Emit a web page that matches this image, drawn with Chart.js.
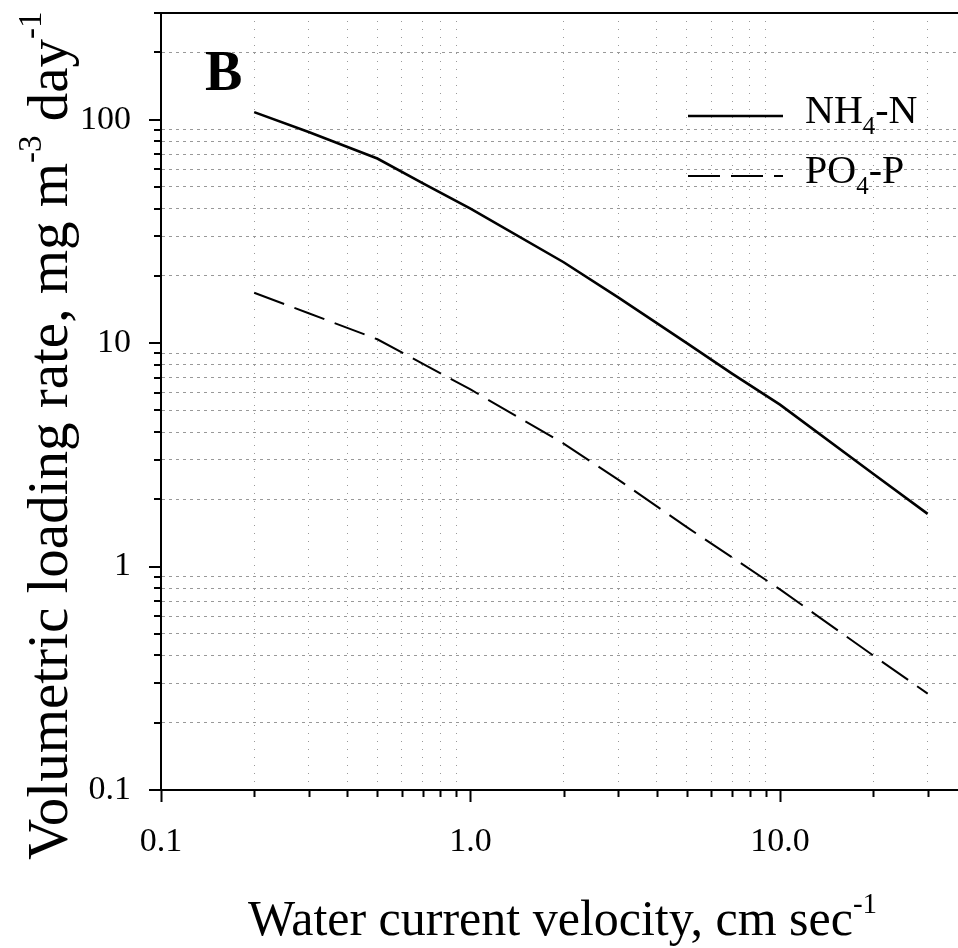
<!DOCTYPE html>
<html><head><meta charset="utf-8">
<script src="https://cdn.jsdelivr.net/npm/chart.js@4/dist/chart.umd.min.js"></script>
<style>html,body{margin:0;padding:0;background:#fff;overflow:hidden}canvas{display:block}</style>
</head><body>
<canvas id="c" width="958" height="948"></canvas>
<script>
// ---- data ----
const velocity = [0.2, 0.3, 0.5, 0.7, 1, 2, 3, 5, 7, 10, 20, 30];
const nh4N = [108, 88, 67, 52, 40, 23, 16, 10, 7.3, 5.3, 2.6, 1.72];
const po4P = [16.8, 13.6, 10.4, 8.1, 6.2, 3.55, 2.45, 1.5, 1.1, 0.79, 0.40, 0.27];

const xTickValues = [0.1, 0.2, 0.3, 0.4, 0.5, 0.6, 0.7, 0.8, 0.9, 1, 2, 3, 4, 5, 6, 7, 8, 9, 10, 20, 30];
const xMajorValues = [0.1, 1, 10];
const xMajorLabels = ['0.1', '1.0', '10.0'];
const yTickValues = [0.1, 0.2, 0.3, 0.4, 0.5, 0.6, 0.7, 0.8, 0.9, 1, 2, 3, 4, 5, 6, 7, 8, 9,
                     10, 20, 30, 40, 50, 60, 70, 80, 90, 100, 200, 300];
const yMajorValues = [0.1, 1, 10, 100];
const yMajorLabels = ['0.1', '1', '10', '100'];

const seriesLabels = ['NH4-N', 'PO4-P'];
const legendParts = [
  [{t: 'NH'}, {t: '4', s: true}, {t: '-N'}],
  [{t: 'PO'}, {t: '4', s: true}, {t: '-P'}]
];
const panelLetter = 'B';
const xTitleParts = [{t: 'Water current velocity, cm sec'}, {t: '-1', s: true}];
const yTitleParts = [{t: 'Volumetric loading rate, mg m'}, {t: '-3', s: true}, {t: ' day'}, {t: '-1', s: true}];

// ---- helpers ----
const SERIF = '"Liberation Serif", "Times New Roman", serif';
function isMajor(v) {
  const l = Math.log10(v);
  return Math.abs(l - Math.round(l)) < 1e-9;
}
function labelFor(v, majors, labels) {
  for (let i = 0; i < majors.length; i++) if (Math.abs(majors[i] - v) < 1e-9) return labels[i];
  return '';
}
function drawRich(ctx, parts, x, y, mainFont, supFont, supShift) {
  let cx = x;
  for (const p of parts) {
    ctx.font = p.s ? supFont : mainFont;
    ctx.fillText(p.t, cx, y + (p.s ? supShift : 0));
    cx += ctx.measureText(p.t).width;
  }
  return cx;
}
function zeroPad(s) { s.paddingTop = 0; s.paddingBottom = 0; s.paddingLeft = 0; s.paddingRight = 0; }
const gridGray = '#999999';

const decor = {
  id: 'decor',
  afterDraw(chart) {
    const ctx = chart.ctx;
    const xs = chart.scales.x, ys = chart.scales.y;
    const a = chart.chartArea;
    ctx.save();
    ctx.strokeStyle = '#000';
    ctx.lineWidth = 2;
    // tick marks (major longer than minor)
    ctx.beginPath();
    for (const v of xTickValues) {
      const px = Math.round(xs.getPixelForValue(v)) + 0.5;
      const len = isMajor(v) ? 12 : 7;
      ctx.moveTo(px, a.bottom);
      ctx.lineTo(px, a.bottom + len);
    }
    for (const v of yTickValues) {
      const py = Math.round(ys.getPixelForValue(v));
      const len = isMajor(v) ? 12 : 7;
      ctx.moveTo(a.left, py);
      ctx.lineTo(a.left - len, py);
    }
    ctx.stroke();
    // top frame line
    ctx.beginPath();
    ctx.moveTo(a.left, a.top);
    ctx.lineTo(a.right, a.top);
    ctx.stroke();

    ctx.fillStyle = '#000';
    ctx.textBaseline = 'alphabetic';
    ctx.textAlign = 'left';
    // panel letter
    ctx.font = 'bold 56px ' + SERIF;
    ctx.fillText(panelLetter, 205, 90);

    // legend
    const ds = chart.data.datasets;
    const legY = [116, 176];
    for (let i = 0; i < ds.length; i++) {
      ctx.save();
      ctx.lineWidth = ds[i].borderWidth;
      ctx.setLineDash(ds[i].borderDash || []);
      ctx.beginPath();
      ctx.moveTo(688, legY[i]);
      ctx.lineTo(783, legY[i]);
      ctx.stroke();
      ctx.restore();
      drawRich(ctx, legendParts[i], 805, legY[i] + 7, '40px ' + SERIF, '25px ' + SERIF, 11);
    }

    // x axis title
    drawRich(ctx, xTitleParts, 248, 935, '50px ' + SERIF, '29px ' + SERIF, -22);

    // y axis title (rotated)
    ctx.save();
    ctx.translate(67, 860);
    ctx.rotate(-Math.PI / 2);
    drawRich(ctx, yTitleParts, 0, 0, '57px ' + SERIF, '33px ' + SERIF, -26);
    ctx.restore();
    ctx.restore();
  }
};

new Chart(document.getElementById('c'), {
  type: 'line',
  data: {
    datasets: [
      {
        label: seriesLabels[0],
        data: velocity.map((v, i) => ({x: v, y: nh4N[i]})),
        borderColor: '#000', borderWidth: 2.6, pointRadius: 0, tension: 0, fill: false
      },
      {
        label: seriesLabels[1],
        data: velocity.map((v, i) => ({x: v, y: po4P[i]})),
        borderColor: '#000', borderWidth: 2, borderDash: [32, 11], pointRadius: 0, tension: 0, fill: false
      }
    ]
  },
  options: {
    responsive: false,
    animation: false,
    devicePixelRatio: 1,
    events: [],
    layout: {padding: {top: 13, right: 0, left: 0, bottom: 0}},
    plugins: {legend: {display: false}, tooltip: {enabled: false}, title: {display: false}},
    scales: {
      x: {
        type: 'logarithmic', position: 'bottom', min: 0.1, max: 37.6,
        afterBuildTicks: s => { s.ticks = xTickValues.map(v => ({value: v})); },
        afterFit: s => { s.height = 158; zeroPad(s); },
        ticks: {
          autoSkip: false, maxRotation: 0, minRotation: 0, padding: 32, color: '#000',
          font: {family: SERIF, size: 34},
          callback: v => labelFor(v, xMajorValues, xMajorLabels)
        },
        grid: {
          drawTicks: false, lineWidth: 1,
          color: c => (c.tick && !isMajor(c.tick.value)) ? gridGray : 'rgba(0,0,0,0)'
        },
        border: {display: true, color: '#000', width: 2, dash: [1, 7]}
      },
      y: {
        type: 'logarithmic', position: 'left', min: 0.1, max: 300,
        afterBuildTicks: s => { s.ticks = yTickValues.map(v => ({value: v})); },
        afterFit: s => { s.width = 161; zeroPad(s); },
        ticks: {
          autoSkip: false, padding: 30, color: '#000',
          font: {family: SERIF, size: 34},
          callback: v => labelFor(v, yMajorValues, yMajorLabels)
        },
        grid: {
          drawTicks: false, lineWidth: 1,
          color: c => (c.tick && !isMajor(c.tick.value)) ? gridGray : 'rgba(0,0,0,0)'
        },
        border: {display: true, color: '#000', width: 2, dash: [3, 4]}
      }
    }
  },
  plugins: [decor]
});
</script>
</body></html>
